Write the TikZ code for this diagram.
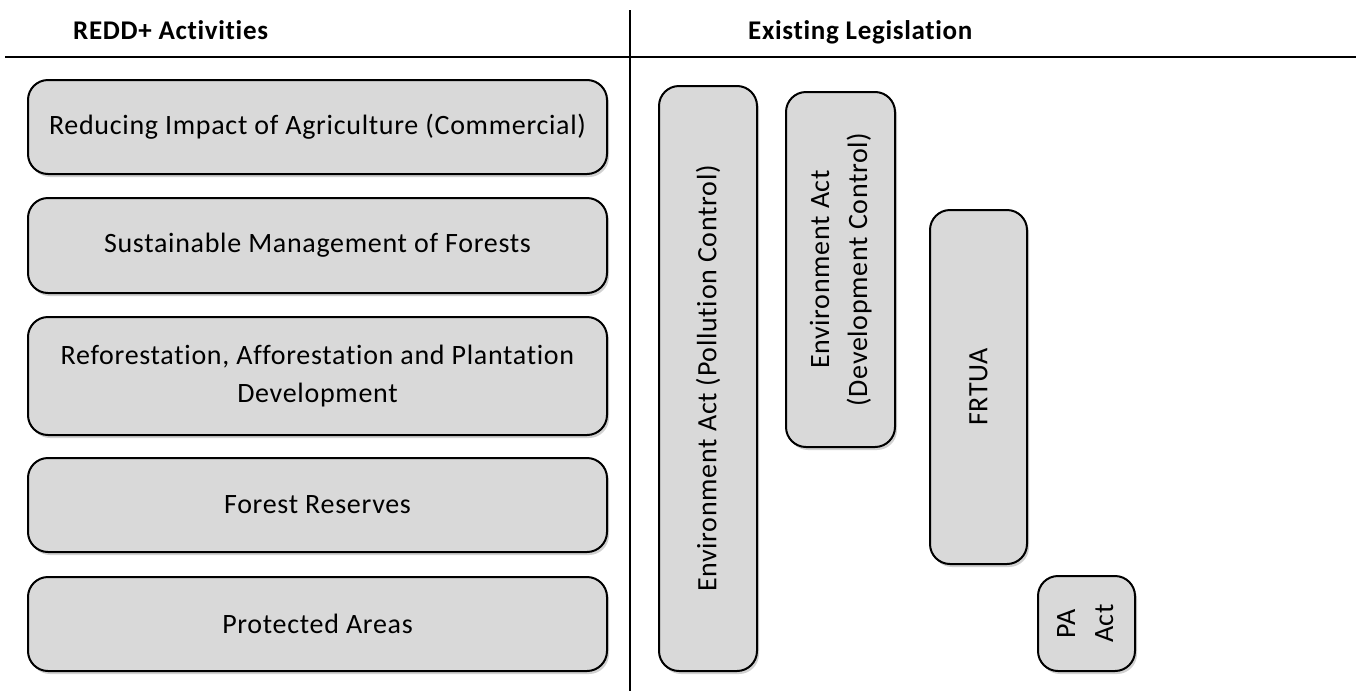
\documentclass[tikz,border=0pt]{standalone}
\usepackage{fontspec}
\setmainfont{Carlito}[Ligatures=NoCommon, LetterSpace=2.5]
\usetikzlibrary{shadows}
\definecolor{boxgray}{HTML}{D9D9D9}
\begin{document}
\begin{tikzpicture}[x=1pt,y=-1pt,
  boxstyle/.style={draw=black, line width=2pt, fill=boxgray, rounded corners=20pt, inner sep=0pt,
    drop shadow={shadow xshift=2pt, shadow yshift=-3pt, opacity=0.3, fill=black!60}},
  txt/.style={font=\fontsize{28}{38}\selectfont, align=center},
  head/.style={font=\fontsize{27}{30}\selectfont\bfseries, anchor=base west, inner sep=0pt},
  rule/.style={line width=2pt, draw=black}]
\useasboundingbox (0,0) rectangle (1356,691);
% header
\node[head] (h1) at (73,39) {REDD+ Activities};
\node[head] (h2) at (748,39) {Existing Legislation};
\coordinate (hl1) at (5,57);
\coordinate (hl2) at (1356,57);
\coordinate (vl1) at (630,10);
\coordinate (vl2) at (630,691);
\draw[rule] (hl1) -- (hl2);
\draw[rule] (vl1) -- (vl2);
% left column
\node[boxstyle, txt, minimum width=579pt, minimum height=94pt] (a1) at (317.5,127) {Reducing Impact of Agriculture (Commercial)};
\node[boxstyle, txt, minimum width=579pt, minimum height=95pt] (a2) at (317.5,245.5) {Sustainable Management of Forests};
\node[boxstyle, txt, minimum width=579pt, minimum height=118pt] (a3) at (317.5,376) {Reforestation, Afforestation and Plantation\\Development};
\node[boxstyle, txt, minimum width=579pt, minimum height=94pt] (a4) at (317.5,505) {Forest Reserves};
\node[boxstyle, txt, minimum width=579pt, minimum height=94pt] (a5) at (317.5,624) {Protected Areas};
% right column
\node[boxstyle, txt, minimum width=98pt, minimum height=585pt] (b1) at (708,378.5) {\rotatebox{90}{Environment Act (Pollution Control)}};
\node[boxstyle, txt, minimum width=109pt, minimum height=355pt] (b2) at (840.5,269.5) {\rotatebox{90}{\begin{tabular}{@{}c@{}}Environment Act\\(Development Control)\end{tabular}}};
\node[boxstyle, txt, minimum width=97pt, minimum height=354pt] (b3) at (978.5,387) {\rotatebox{90}{FRTUA}};
\node[boxstyle, txt, minimum width=97pt, minimum height=95pt] (b4) at (1086.5,623.5) {\rotatebox{90}{\begin{tabular}{@{}c@{}}PA\\Act\end{tabular}}};
\end{tikzpicture}
\end{document}
